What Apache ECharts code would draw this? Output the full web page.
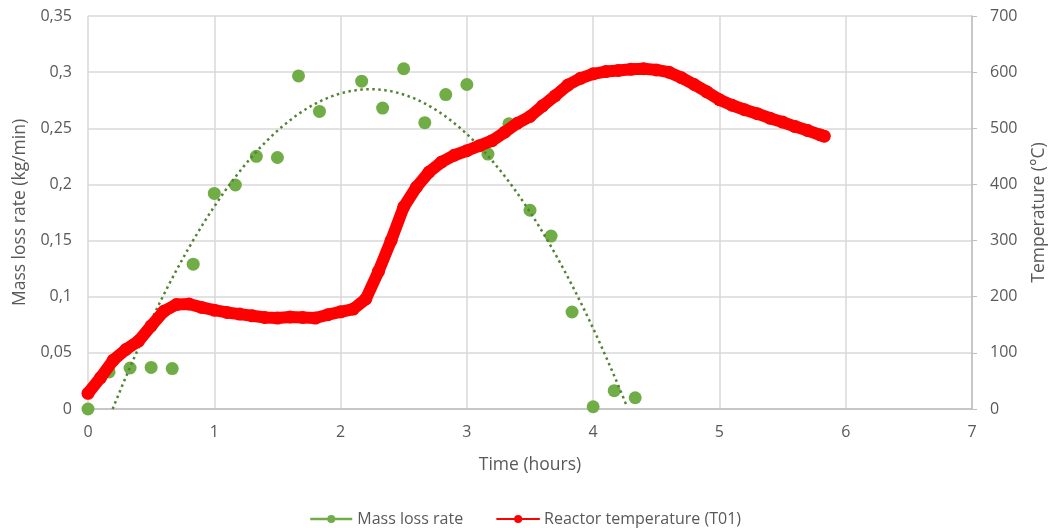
<!DOCTYPE html>
<html><head><meta charset="utf-8">
<script src="https://cdn.jsdelivr.net/npm/echarts@6/dist/echarts.min.js"></script>
<style>html,body{margin:0;padding:0;background:#fff}#c{width:1050px;height:528px}</style>
</head><body><div id="c"></div>
<script>
// Mass loss rate (kg/min) vs time (hours)
const massTime = [0, 0.167, 0.333, 0.5, 0.667, 0.833, 1.0, 1.167, 1.333, 1.5, 1.667, 1.833, 2.167, 2.333, 2.5, 2.667, 2.833, 3.0, 3.167, 3.333, 3.5, 3.667, 3.833, 4.0, 4.167, 4.333];
const massRate = [0, 0.033, 0.0365, 0.037, 0.036, 0.129, 0.192, 0.1995, 0.225, 0.224, 0.2966, 0.265, 0.292, 0.268, 0.303, 0.255, 0.28, 0.289, 0.227, 0.254, 0.177, 0.154, 0.0864, 0.002, 0.0163, 0.01];
// Reactor temperature (°C) vs time (hours)
const tempTime = [0,0.1,0.2,0.3,0.4,0.5,0.6,0.7,0.8,0.9,1.0,1.1,1.2,1.3,1.4,1.5,1.6,1.7,1.8,1.9,2.0,2.1,2.2,2.3,2.4,2.5,2.6,2.7,2.8,2.9,3.0,3.1,3.2,3.3,3.4,3.5,3.6,3.7,3.8,3.9,4.0,4.1,4.2,4.3,4.4,4.5,4.6,4.7,4.8,4.9,5.0,5.1,5.2,5.3,5.4,5.5,5.6,5.7,5.8,5.83];
const tempVal = [28,56,87,106,121,148,174,186,187,181,176,172,169,166,163,162,164,163,162,168,173,178,196,245,300,360,395,422,440,452,460,469,478,493,509,521,540,558,577,589,597,601,603,605,606,604,600,590,578,565,551,541,533,526,518,511,503,496,488,486];
const xTicks = [0,1,2,3,4,5,6,7];
const leftTicks = [0,0.05,0.1,0.15,0.2,0.25,0.3,0.35];
const rightTicks = [0,100,200,300,400,500,600,700];
const seriesNames = ['Mass loss rate', 'Reactor temperature (T01)'];

// Polynomial (order 2) least-squares trendline of the mass loss rate, as in the source spreadsheet
function polyFit2(xs, ys){
  let S=[0,0,0,0,0], T=[0,0,0];
  for(let i=0;i<xs.length;i++){const x=xs[i],y=ys[i];let p=1;for(let k=0;k<5;k++){S[k]+=p;if(k<3)T[k]+=p*y;p*=x;}}
  const A=[[S[0],S[1],S[2],T[0]],[S[1],S[2],S[3],T[1]],[S[2],S[3],S[4],T[2]]];
  for(let i=0;i<3;i++){for(let j=i+1;j<3;j++){const f=A[j][i]/A[i][i];for(let k=i;k<4;k++)A[j][k]-=f*A[i][k];}}
  const c=[0,0,0];
  for(let i=2;i>=0;i--){let s=A[i][3];for(let k=i+1;k<3;k++)s-=A[i][k]*c[k];c[i]=s/A[i][i];}
  return c;
}
const coef = polyFit2(massTime, massRate);
const trend = [];
const x0 = massTime[0], x1 = massTime[massTime.length-1];
for(let i=0;i<=200;i++){const x=x0+(x1-x0)*i/200;const y=coef[0]+coef[1]*x+coef[2]*x*x; if(y>=-0.002) trend.push([x,y]);}

const txt = '#595959', grid = '#d9d9d9', font = 'Open Sans';
const chart = echarts.init(document.getElementById('c'));
chart.setOption({
  animation:false,
  textStyle:{fontFamily:font,color:txt},
  grid:{left:88,right:78,top:16,bottom:119,containLabel:false,outerBoundsMode:'none'},
  legend:{
    top:506,left:'center',itemWidth:42,itemHeight:10,itemGap:33,
    textStyle:{fontFamily:font,fontSize:16,color:txt},
    lineStyle:{width:2.5},
    data:[
      {name:seriesNames[0],lineStyle:{color:'#70ad47',width:2.5,opacity:1}},
      {name:seriesNames[1],lineStyle:{color:'#ff0000',width:2,opacity:1}}
    ]
  },
  xAxis:{type:'value',min:xTicks[0],max:xTicks[xTicks.length-1],interval:1,
    name:'Time (hours)',nameLocation:'middle',nameGap:47,
    nameTextStyle:{fontSize:17.5,color:txt,fontFamily:font},
    axisLine:{show:true,lineStyle:{color:'#bfbfbf',width:1.5}},axisTick:{show:false},
    axisLabel:{fontSize:16,color:txt,margin:15},
    splitLine:{show:true,lineStyle:{color:grid,width:1.5}}},
  yAxis:[
    {type:'value',min:leftTicks[0],max:leftTicks[leftTicks.length-1],interval:0.05,
     name:'Mass loss rate (kg/min)',nameLocation:'middle',nameGap:58,
     nameTextStyle:{fontSize:17.5,color:txt,fontFamily:font},
     axisLine:{show:false},axisTick:{show:false},
     axisLabel:{fontSize:16,color:txt,margin:16,formatter:v=>String(+v.toFixed(2)).replace('.',',')},
     splitLine:{show:true,lineStyle:{color:grid,width:1.5}}},
    {type:'value',min:rightTicks[0],max:rightTicks[rightTicks.length-1],interval:100,position:'right',
     name:'Temperature (°C)',nameLocation:'middle',nameGap:58,nameRotate:90,
     nameTextStyle:{fontSize:17.5,color:txt,fontFamily:font},
     axisLine:{show:true,lineStyle:{color:'#bfbfbf',width:1.5}},
     axisTick:{show:true,length:5,lineStyle:{color:'#bfbfbf'}},
     axisLabel:{fontSize:16,color:txt,margin:18},
     splitLine:{show:false}}
  ],
  series:[
    {name:'trend',type:'line',yAxisIndex:0,data:trend,showSymbol:false,symbol:'none',z:3,
     lineStyle:{color:'#548235',width:2.5,type:[2.5,3.5],cap:'butt'},silent:true,clip:true},
    {name:seriesNames[0],type:'line',yAxisIndex:0,data:massTime.map((t,i)=>[t,massRate[i]]),
     symbol:'circle',symbolSize:13,itemStyle:{color:'#70ad47',opacity:1},
     lineStyle:{width:0,opacity:0,color:'#70ad47'},z:2},
    {name:seriesNames[1],type:'line',yAxisIndex:1,data:tempTime.map((t,i)=>[t,tempVal[i]]),
     symbol:'circle',symbolSize:13,showAllSymbol:true,itemStyle:{color:'#ff0000'},
     lineStyle:{width:12,color:'#ff0000',cap:'round',join:'round'},z:4}
  ]
});
</script></body></html>
